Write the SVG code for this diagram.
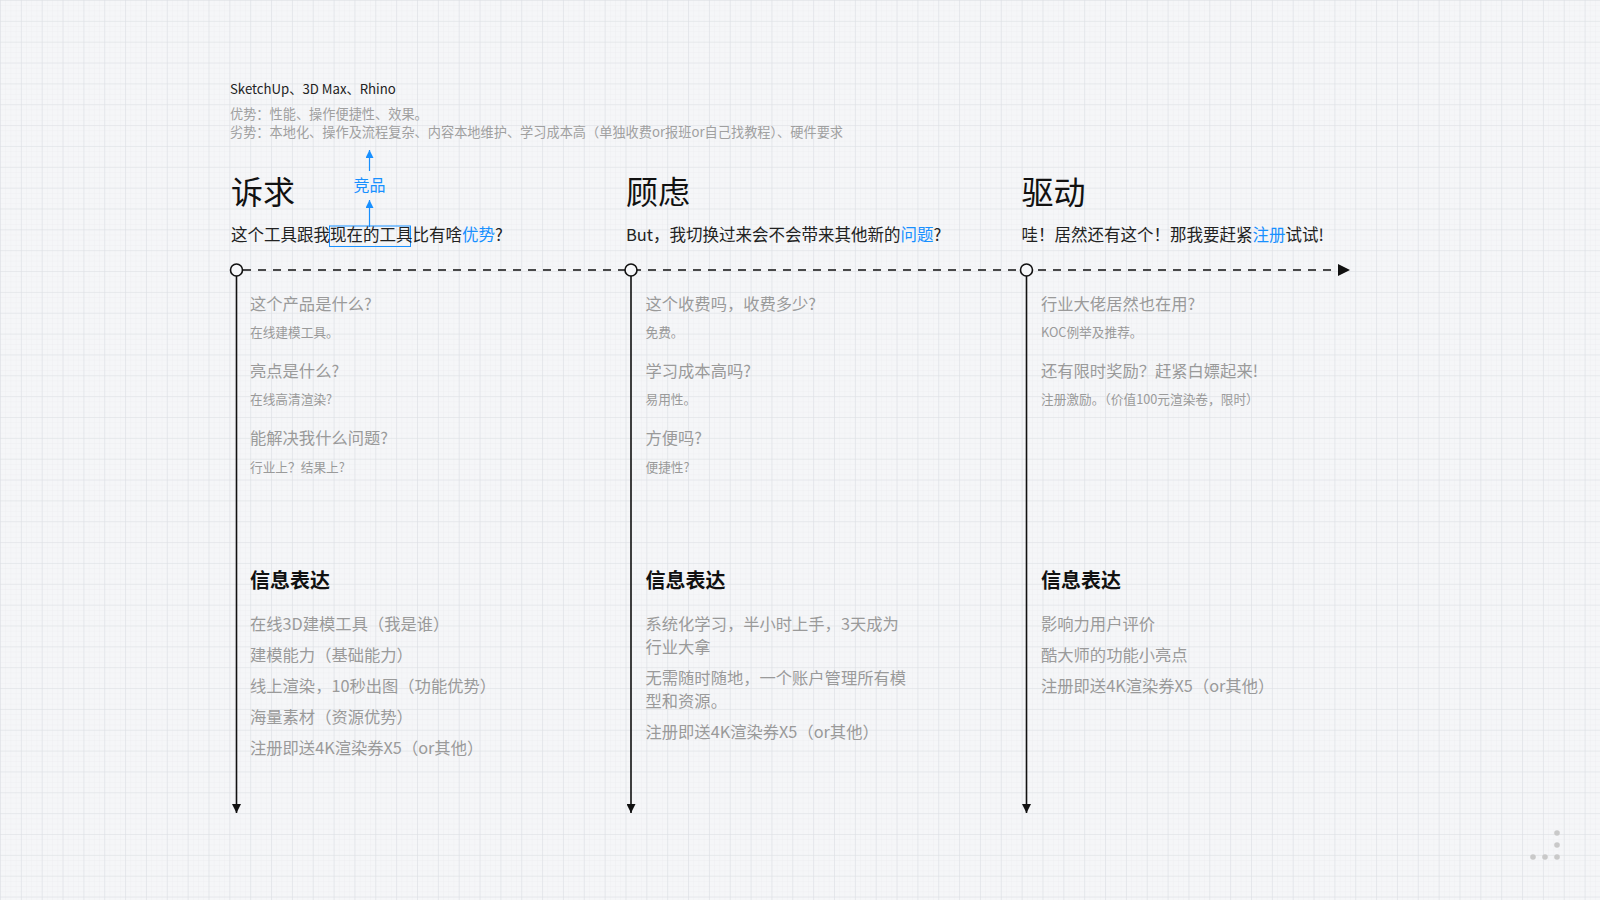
<svg xmlns="http://www.w3.org/2000/svg" width="1600" height="900" viewBox="0 0 1600 900">
<defs>
<pattern id="minor" width="5.2125" height="5.2125" patternUnits="userSpaceOnUse">
<path d="M0 0H5.2125M0 0V5.2125" stroke="#eaecef" stroke-width="0.6" fill="none"/>
</pattern>
<pattern id="major" width="20.85" height="20.85" patternUnits="userSpaceOnUse">
<path d="M0 0H20.85M0 0V20.85" stroke="#dcdfe4" stroke-width="1.2" fill="none"/>
</pattern>
<marker id="ah" viewBox="0 0 10 10" refX="10" refY="5" markerWidth="10" markerHeight="9" markerUnits="userSpaceOnUse" orient="auto">
<path d="M0 0L10 5L0 10Z" fill="#111"/>
</marker>
<marker id="ahBig" viewBox="0 0 10 10" refX="10" refY="5" markerWidth="13" markerHeight="12" markerUnits="userSpaceOnUse" orient="auto">
<path d="M0 0L10 5L0 10Z" fill="#111"/>
</marker>
<marker id="ahBlue" viewBox="0 0 10 10" refX="10" refY="5" markerWidth="9" markerHeight="8" markerUnits="userSpaceOnUse" orient="auto">
<path d="M0 0L10 5L0 10Z" fill="#1890ff"/>
</marker>
</defs>
<style>
text{font-family:"Noto Sans CJK SC","Noto Sans",sans-serif;}
.h{font-size:32px;fill:#111;}
.sub{font-size:16.5px;fill:#222;}
.blue{fill:#1890ff;}
.q{font-size:16.3px;fill:#9a9a9a;}
.a{font-size:12.7px;fill:#9a9a9a;}
.ih{font-size:20px;font-weight:bold;fill:#111;}
.li{font-size:16.3px;fill:#9a9a9a;}
.top{font-size:13.2px;fill:#222;}
.topg{font-size:13.2px;fill:#a0a0a0;}
.tl{stroke:#111;stroke-width:1.6;fill:none;}
.dot{fill:#c9c9c9;}
</style>
<rect width="1600" height="900" fill="#f5f6f8"/>
<rect width="1600" height="900" fill="url(#minor)"/>
<rect width="1600" height="900" fill="url(#major)"/>

<g id="connectors">
<line class="tl" x1="243" y1="270" x2="1350" y2="270" stroke-dasharray="8 7" marker-end="url(#ahBig)"/>
<line class="tl" x1="236.5" y1="276" x2="236.5" y2="813" marker-end="url(#ah)"/>
<line class="tl" x1="631" y1="276" x2="631" y2="813" marker-end="url(#ah)"/>
<line class="tl" x1="1026.5" y1="276" x2="1026.5" y2="813" marker-end="url(#ah)"/>
<circle cx="236.5" cy="270" r="6" fill="#f7f8fa" stroke="#111" stroke-width="1.6"/>
<circle cx="631" cy="270" r="6" fill="#f7f8fa" stroke="#111" stroke-width="1.6"/>
<circle cx="1026.5" cy="270" r="6" fill="#f7f8fa" stroke="#111" stroke-width="1.6"/>
<line x1="369.5" y1="227" x2="369.5" y2="200" stroke="#1890ff" stroke-width="1.2" marker-end="url(#ahBlue)"/>
<line x1="369.5" y1="171" x2="369.5" y2="150" stroke="#1890ff" stroke-width="1.2" marker-end="url(#ahBlue)"/>
</g>

<g id="competitors">
<text class="top" x="230" y="93.5">SketchUp、3D Max、Rhino</text>
<text class="topg" x="230" y="119">优势：性能、操作便捷性、效果。</text>
<text class="topg" x="230" y="136.5">劣势：本地化、操作及流程复杂、内容本地维护、学习成本高（单独收费or报班or自己找教程）、硬件要求</text>
</g>

<g id="jingpin">
<text x="369.5" y="191" text-anchor="middle" font-size="16" class="blue">竞品</text>
</g>

<g id="col-suqiu">
<text class="h" x="231" y="203.5">诉求</text>
<rect x="329.5" y="226" width="81" height="20.5" fill="none" stroke="#1890ff" stroke-width="1"/>
<text class="sub" x="231" y="241">这个工具跟我现在的工具比有啥<tspan class="blue">优势</tspan>?</text>
<text class="q" x="250" y="309.5">这个产品是什么?</text>
<text class="a" x="250" y="337">在线建模工具。</text>
<text class="q" x="250" y="376.5">亮点是什么?</text>
<text class="a" x="250" y="404">在线高清渲染?</text>
<text class="q" x="250" y="444">能解决我什么问题?</text>
<text class="a" x="250" y="471.5">行业上？结果上?</text>
<text class="ih" x="250" y="587.5">信息表达</text>
<text class="li" x="250" y="630">在线3D建模工具（我是谁）</text>
<text class="li" x="250" y="661">建模能力（基础能力）</text>
<text class="li" x="250" y="692">线上渲染，10秒出图（功能优势）</text>
<text class="li" x="250" y="723">海量素材（资源优势）</text>
<text class="li" x="250" y="754">注册即送4K渲染券X5（or其他）</text>
</g>

<g id="col-gulv">
<text class="h" x="626" y="203.5">顾虑</text>
<text class="sub" x="626" y="241">But，我切换过来会不会带来其他新的<tspan class="blue">问题</tspan>?</text>
<text class="q" x="645.5" y="309.5">这个收费吗，收费多少?</text>
<text class="a" x="645.5" y="337">免费。</text>
<text class="q" x="645.5" y="376.5">学习成本高吗?</text>
<text class="a" x="645.5" y="404">易用性。</text>
<text class="q" x="645.5" y="444">方便吗?</text>
<text class="a" x="645.5" y="471.5">便捷性?</text>
<text class="ih" x="645.5" y="587.5">信息表达</text>
<text class="li" x="645.5" y="630">系统化学习，半小时上手，3天成为</text>
<text class="li" x="645.5" y="652.5">行业大拿</text>
<text class="li" x="645.5" y="684">无需随时随地，一个账户管理所有模</text>
<text class="li" x="645.5" y="706.5">型和资源。</text>
<text class="li" x="645.5" y="738">注册即送4K渲染券X5（or其他）</text>
</g>

<g id="col-qudong">
<text class="h" x="1021.5" y="203.5">驱动</text>
<text class="sub" x="1021.5" y="241">哇！居然还有这个！那我要赶紧<tspan class="blue">注册</tspan>试试!</text>
<text class="q" x="1041" y="309.5">行业大佬居然也在用?</text>
<text class="a" x="1041" y="337">KOC例举及推荐。</text>
<text class="q" x="1041" y="376.5">还有限时奖励？赶紧白嫖起来!</text>
<text class="a" x="1041" y="404">注册激励。（价值100元渲染卷，限时）</text>
<text class="ih" x="1041" y="587.5">信息表达</text>
<text class="li" x="1041" y="630">影响力用户评价</text>
<text class="li" x="1041" y="661">酷大师的功能小亮点</text>
<text class="li" x="1041" y="692">注册即送4K渲染券X5（or其他）</text>
</g>

<g id="corner-dots">
<circle class="dot" cx="1533" cy="857" r="2.8"/>
<circle class="dot" cx="1545" cy="857" r="2.8"/>
<circle class="dot" cx="1557" cy="857" r="2.8"/>
<circle class="dot" cx="1557" cy="845" r="2.8"/>
<circle class="dot" cx="1557" cy="833" r="2.8"/>
</g>
</svg>
